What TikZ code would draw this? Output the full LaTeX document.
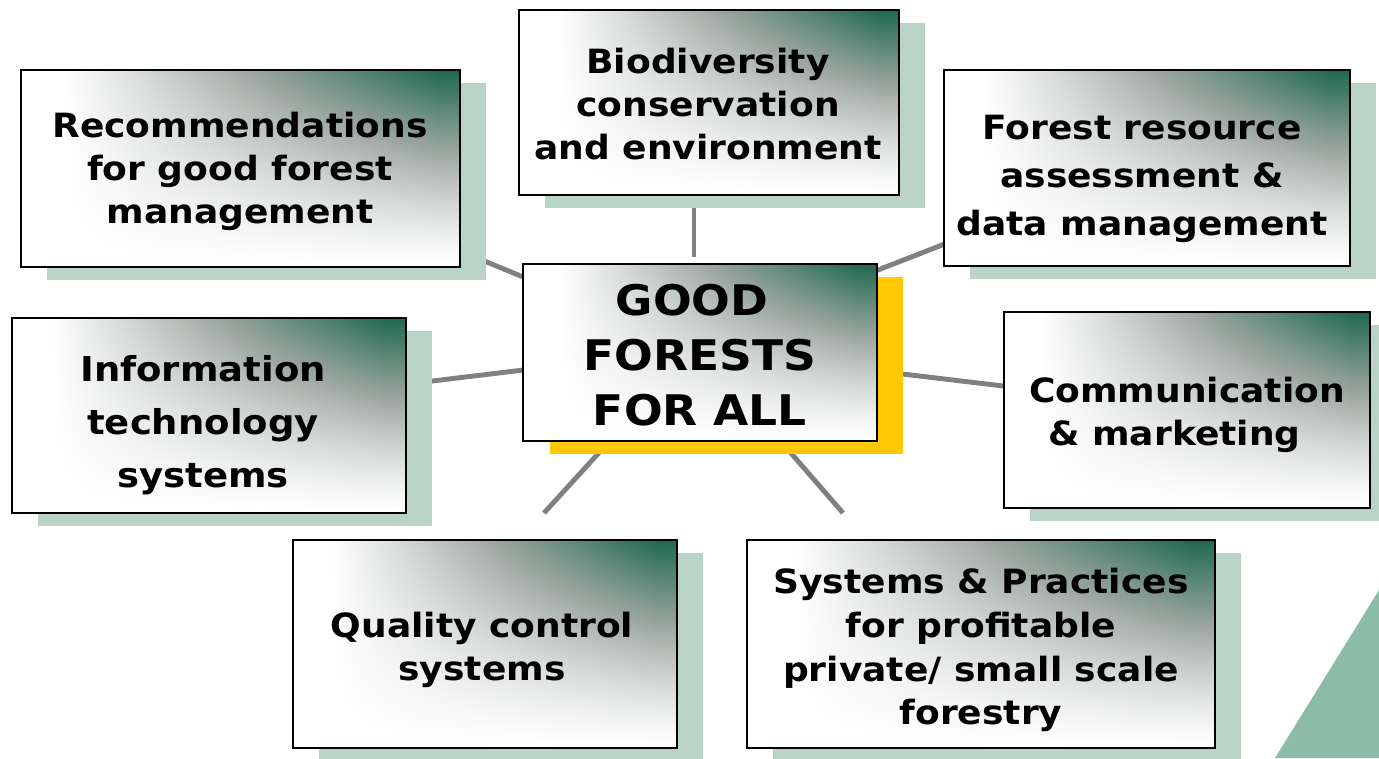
\documentclass[tikz,border=0pt]{standalone}
\usepackage{fontspec}
\setmainfont{DejaVu Sans}[FakeStretch=1.08]
\usetikzlibrary{fit}
\definecolor{shadowc}{RGB}{186,211,199}
\definecolor{yellowc}{RGB}{255,200,0}
\definecolor{conngray}{RGB}{128,128,128}
\definecolor{cornerc}{RGB}{140,188,168}
\pgfdeclarefunctionalshading{boxshade}{\pgfpoint{0bp}{0bp}}{\pgfpoint{100bp}{100bp}}{}{
  25 sub 50 div exch 25 sub 50 div
  0.1 sub 0.85 div dup 0 lt {pop 0} if dup 1 gt {pop 1} if
  exch dup 0 lt {pop 0} if dup 1 gt {pop 1} if 1.3 exp
  mul
  dup 0.5 lt
  { 2 mul dup -0.39 mul 1 add exch dup -0.35 mul 1 add exch -0.37 mul 1 add }
  { 2 mul 1 sub dup -0.49 mul 0.61 add exch dup -0.24 mul 0.65 add exch -0.32 mul 0.63 add }
  ifelse
}
\tikzset{
  gbox/.style={draw=black, line width=1.1pt, shading=boxshade, inner sep=0pt},
  conn/.style={draw=conngray, line width=2.8pt},
  lbl/.style={align=center, text=black, inner sep=0pt, font=\bfseries\fontsize{19pt}{24.5pt}\selectfont},
}
\newcommand\mkbox[5]{%
  \fill[shadowc] (#2+26,#3+13) rectangle (#4+26,#5+13);
  \node[gbox, fit={(#2,#3) (#4,#5)}] (#1) {};
}
\begin{document}
\begin{tikzpicture}[x=0.02cm,y=-0.02cm]
\useasboundingbox (0,0) rectangle (1379,758);
% corner decoration
\fill[cornerc] (1275,758) -- (1379,590) -- (1379,758) -- cycle;
% connector end points
\coordinate (r1) at (470,255); \coordinate (r2) at (540,284);
\coordinate (b1) at (694,200); \coordinate (b2) at (694,257);
\coordinate (f1) at (860,277); \coordinate (f2) at (960,238);
\coordinate (i1) at (420,382.5); \coordinate (i2) at (540,368);
\coordinate (m1) at (890,372.5); \coordinate (m2) at (1020,388);
\coordinate (q1) at (606,445); \coordinate (q2) at (544,513);
\coordinate (s1) at (784,445); \coordinate (s2) at (843,513);
\draw[conn] (r1) -- (r2);
\draw[conn] (b1) -- (b2);
\draw[conn] (f1) -- (f2);
\draw[conn] (i1) -- (i2);
\draw[conn] (m1) -- (m2);
\draw[conn] (q1) -- (q2);
\draw[conn] (s1) -- (s2);
% boxes
\mkbox{rec}{21}{70}{460}{267}
\mkbox{bio}{519}{10}{899}{195}
\mkbox{fra}{944}{70}{1350}{266}
\mkbox{inf}{12}{318}{406}{513}
\mkbox{com}{1004}{312}{1370}{508}
\mkbox{qua}{293}{540}{677}{748}
\mkbox{sys}{747}{540}{1215}{748}
\fill[yellowc] (550,277) rectangle (903,454);
\node[gbox, fit={(523,264) (877,441)}] (ctr) {};
% texts
\node[lbl] (trec) at (240,171) {Recommendations\\for good forest\\management};
\node[lbl] (tbio) at (708,104) {Biodiversity\\conservation\\and environment};
\node[lbl, font=\bfseries\fontsize{19pt}{27.5pt}\selectfont] (tfra) at (1142,179) {Forest resource\\assessment \&\\data management};
\node[lbl, font=\bfseries\fontsize{19.5pt}{30.2pt}\selectfont] (tinf) at (203,425) {Information\\technology\\systems};
\node[lbl] (tcom) at (1187,415) {Communication\\\& marketing\hphantom{\ \ }};
\node[lbl] (tqua) at (482,650) {Quality control\\systems};
\node[lbl, font=\bfseries\fontsize{19pt}{25pt}\selectfont] (tsys) at (981,650) {Systems \& Practices\\for profitable\\private/ small scale\\forestry};
\node[lbl, font=\bfseries\fontsize{24pt}{31.3pt}\selectfont] (tctr) at (700,355) {GOOD\hphantom{\ }\\FORESTS\\FOR ALL};
\end{tikzpicture}
\end{document}
